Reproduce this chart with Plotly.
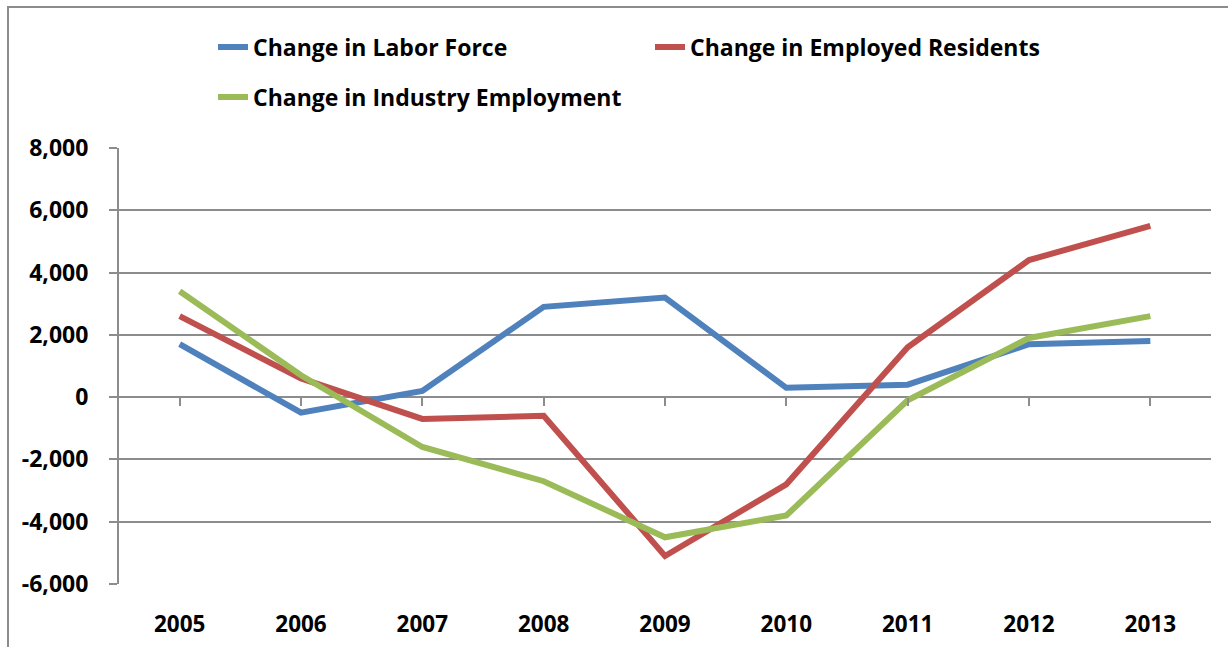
import plotly.graph_objects as go

years = ["2005", "2006", "2007", "2008", "2009", "2010", "2011", "2012", "2013"]
labor_force = [1700, -500, 200, 2900, 3200, 300, 400, 1700, 1800]
employed_residents = [2600, 600, -700, -600, -5100, -2800, 1600, 4400, 5500]
industry_employment = [3400, 700, -1600, -2700, -4500, -3800, -100, 1900, 2600]

y_ticks = [-6000, -4000, -2000, 0, 2000, 4000, 6000, 8000]
y_tick_text = ["-6,000", "-4,000", "-2,000", "0", "2,000", "4,000", "6,000", "8,000"]

W, H = 1228, 647
ML, MR, MT, MB = 119, 17, 148, 63
PW, PH = W - ML - MR, H - MT - MB

FONT = "Open Sans"
GRID = "#8c8c8c"

fig = go.Figure()

series = [
    ("Change in Labor Force", labor_force, "#4F81BD", "legend"),
    ("Change in Employed Residents", employed_residents, "#C0504D", "legend"),
    ("Change in Industry Employment", industry_employment, "#9BBB59", "legend2"),
]
for name, vals, color, lg in series:
    fig.add_trace(go.Scatter(
        x=list(range(len(years))), y=vals, name=name, mode="lines",
        line=dict(color=color, width=6), legend=lg,
    ))

# invisible trace carrying the axis drawn through zero
fig.add_trace(go.Scatter(x=[0, 8], y=[0, 0], xaxis="x2", mode="lines",
                         line=dict(width=0), showlegend=False, hoverinfo="skip"))

zero_pos = (0 - y_ticks[0]) / (y_ticks[-1] - y_ticks[0])

fig.update_layout(
    width=W, height=H,
    margin=dict(l=ML, r=MR, t=MT, b=MB, autoexpand=False),
    paper_bgcolor="white", plot_bgcolor="white",
    font=dict(family=FONT, size=22, color="black"),
    xaxis=dict(
        range=[-0.5, 8.5], tickvals=list(range(len(years))), ticktext=years,
        showgrid=False, zeroline=False, showline=False, automargin=False,
        ticks="outside", ticklen=20, tickcolor="rgba(0,0,0,0)",
        tickfont=dict(family=FONT, size=22.5, color="black", weight="bold"),
    ),
    xaxis2=dict(
        range=[-0.5, 8.5], tickvals=list(range(len(years))), overlaying="x",
        anchor="free", position=zero_pos, side="bottom", automargin=False,
        showgrid=False, zeroline=False, showline=False,
        ticks="outside", ticklen=8, tickwidth=2, tickcolor=GRID,
        showticklabels=False,
    ),
    yaxis=dict(
        range=[y_ticks[0], y_ticks[-1]], tickvals=y_ticks, ticktext=y_tick_text,
        showgrid=True, gridcolor=GRID, gridwidth=2, automargin=False,
        zeroline=False, showline=True, linecolor=GRID, linewidth=2,
        ticks="outside", ticklen=8, tickwidth=2, tickcolor=GRID,
        ticklabelstandoff=16,
        tickfont=dict(family=FONT, size=23, color="black", weight="bold"),
    ),
    legend=dict(
        orientation="h", x=(213 - ML) / PW, xanchor="left",
        y=(MT + PH - 47) / PH, yanchor="middle",
        entrywidth=392, entrywidthmode="pixels",
        font=dict(family=FONT, size=23, color="black", weight="bold"),
        bgcolor="rgba(0,0,0,0)",
    ),
    legend2=dict(
        orientation="h", x=(213 - ML) / PW, xanchor="left",
        y=(MT + PH - 97) / PH, yanchor="middle",
        font=dict(family=FONT, size=23, color="black", weight="bold"),
        bgcolor="rgba(0,0,0,0)",
    ),
    showlegend=True,
    shapes=[dict(
        type="rect", xref="paper", yref="paper",
        x0=(8 - ML) / PW, x1=(W + 5 - ML) / PW,
        y0=(MT + PH - (H + 5)) / PH, y1=(MT + PH - 7) / PH,
        line=dict(color="#8c8c8c", width=2), fillcolor="rgba(0,0,0,0)",
        layer="below",
    )],
)

fig.write_html("out.html")
